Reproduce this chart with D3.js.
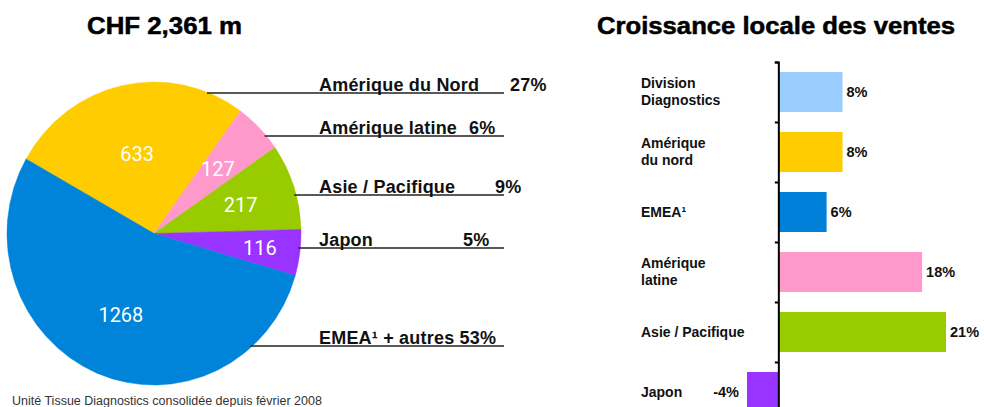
<!DOCTYPE html>
<html><head><meta charset="utf-8">
<script src="https://cdn.jsdelivr.net/npm/d3@7"></script>
<style>
body{margin:0;background:#fff;}
svg{display:block;font-family:"Liberation Sans",Arial,sans-serif;}
</style></head>
<body>
<svg id="c" width="984" height="407"></svg>
<script>
// ---- Data ----
const pieTitle = "CHF 2,361 m";
const pieRegions = ["Amérique du Nord", "Amérique latine", "Asie / Pacifique", "Japon", "EMEA¹ + autres"];
const pieValues = [633, 127, 217, 116, 1268];
const piePercents = ["27%", "6%", "9%", "5%", "53%"];
const pieColors = ["#ffcc00", "#ff99cc", "#99cc00", "#9933ff", "#0084d9"];

const barTitle = "Croissance locale des ventes";
const barCategories = [["Division", "Diagnostics"], ["Amérique", "du nord"], ["EMEA¹"], ["Amérique", "latine"], ["Asie / Pacifique"], ["Japon"]];
const barValues = [8, 8, 6, 18, 21, -4];
const barColors = ["#99ccff", "#ffcc00", "#0080d8", "#ff99cc", "#99cc00", "#9933ff"];

const footnote = "Unité Tissue Diagnostics consolidée depuis février 2008";

// ---- Layout ----
const svg = d3.select("#c");
const cx = 154, cy = 233.5, RY = 151.5, RX = 147;
const sx = RX / RY;
const labelRadius = [82, 92, 94, 110, 88];
const leaderY = [93, 136, 195, 248, 346];
const nameX = 319, lineEnd = 504;
const pctX = [510, 469, 495, 463, null];

// Titles
svg.append("text").attr("x", 87).attr("y", 33.5)
  .attr("font-size", 23).attr("font-weight", "bold")
  .attr("stroke", "#000").attr("stroke-width", 0.5)
  .attr("textLength", 155).attr("lengthAdjust", "spacingAndGlyphs").text(pieTitle);
svg.append("text").attr("x", 597).attr("y", 34)
  .attr("font-size", 23).attr("font-weight", "bold")
  .attr("stroke", "#000").attr("stroke-width", 0.5)
  .attr("textLength", 358).attr("lengthAdjust", "spacingAndGlyphs").text(barTitle);

// Pie (slightly elliptical like the reference)
const pie = d3.pie().sort(null).value(d => d)
  .startAngle(-60.5 * Math.PI / 180).endAngle((360 - 60.5) * Math.PI / 180);
const arcs = pie(pieValues);
const arc = d3.arc().innerRadius(0).outerRadius(RY);
const g = svg.append("g").attr("transform", `translate(${cx},${cy})`);
g.append("g").attr("transform", `scale(${sx},1)`)
  .selectAll("path").data(arcs).join("path").attr("d", arc).attr("fill", (d, i) => pieColors[i])
  .attr("stroke", (d, i) => pieColors[i]).attr("stroke-width", 0.5);
g.selectAll("text.v").data(arcs).join("text").attr("class", "v")
  .attr("transform", (d, i) => {
    const c = d3.arc().innerRadius(labelRadius[i]).outerRadius(labelRadius[i]).centroid(d);
    return `translate(${c[0] * sx},${c[1]})`;
  })
  .attr("text-anchor", "middle").attr("dy", "0.36em")
  .attr("fill", "#fff").attr("font-size", 20)
  .style("font-family", "Roboto, 'Liberation Sans', sans-serif")
  .text(d => d.value);

// Leader lines + labels
pieRegions.forEach((name, i) => {
  const y = leaderY[i];
  const dy = y - cy;
  const x0 = cx + RX * Math.sqrt(Math.max(0, 1 - (dy / RY) * (dy / RY))) - 2;
  svg.append("line").attr("x1", x0).attr("x2", lineEnd).attr("y1", y).attr("y2", y)
    .attr("stroke", "#222").attr("stroke-width", 1.6);
  const t = svg.append("text").attr("x", nameX).attr("y", y - 2)
    .attr("font-size", 18).attr("font-weight", "bold").attr("fill", "#111")
    .attr("letter-spacing", 0.2);
  if (pctX[i] === null) {
    t.text(name + " " + piePercents[i]);
  } else {
    t.text(name);
    svg.append("text").attr("x", pctX[i]).attr("y", y - 2)
      .attr("font-size", 18).attr("font-weight", "bold").attr("fill", "#111")
      .attr("letter-spacing", 0.2)
      .text(piePercents[i]);
  }
});

// Footnote
svg.append("text").attr("x", 12).attr("y", 404.5).attr("font-size", 12.5).attr("fill", "#333")
  .text(footnote);

// Bar chart
const x = d3.scaleLinear().domain([-4, 21]).range([747, 946]);
const y = d3.scaleBand().domain(d3.range(barValues.length)).range([62, 422]).paddingInner(1 / 3).paddingOuter(1 / 6);
const bg = svg.append("g");
bg.selectAll("rect").data(barValues).join("rect")
  .attr("x", d => x(Math.min(0, d))).attr("width", d => Math.abs(x(d) - x(0)))
  .attr("y", (d, i) => y(i)).attr("height", y.bandwidth())
  .attr("fill", (d, i) => barColors[i]);

// Axis line with ticks between bands
const y0 = d3.scaleLinear().domain([0, barValues.length]).range([62, 422]);
const axis = d3.axisLeft(y0).tickValues(d3.range(0, barValues.length + 1)).tickSize(4).tickFormat("");
svg.append("g").attr("transform", `translate(${x(0)},0)`).call(axis)
  .call(s => s.select(".domain").attr("stroke", "#000").attr("stroke-width", 2).attr("d", `M-4,62.5H0V422`))
  .call(s => s.selectAll(".tick line").attr("stroke", "#000").attr("stroke-width", 2));

// Value labels
bg.selectAll("text.val").data(barValues).join("text").attr("class", "val")
  .attr("x", d => d >= 0 ? x(d) + 4 : x(d) - 8)
  .attr("y", (d, i) => y(i) + y.bandwidth() / 2)
  .attr("dy", "0.35em")
  .attr("text-anchor", d => d >= 0 ? "start" : "end")
  .attr("font-size", 14.5).attr("font-weight", "bold").attr("fill", "#111")
  .text(d => d + "%");

// Category labels
barCategories.forEach((lines, i) => {
  const yc = y(i) + y.bandwidth() / 2;
  const t = svg.append("text").attr("font-size", 14).attr("font-weight", "bold").attr("fill", "#111");
  lines.forEach((ln, j) => {
    t.append("tspan").attr("x", 641)
      .attr("y", yc + (j - (lines.length - 1) / 2) * 17)
      .attr("dy", "0.35em").text(ln);
  });
});
</script>
</body></html>
